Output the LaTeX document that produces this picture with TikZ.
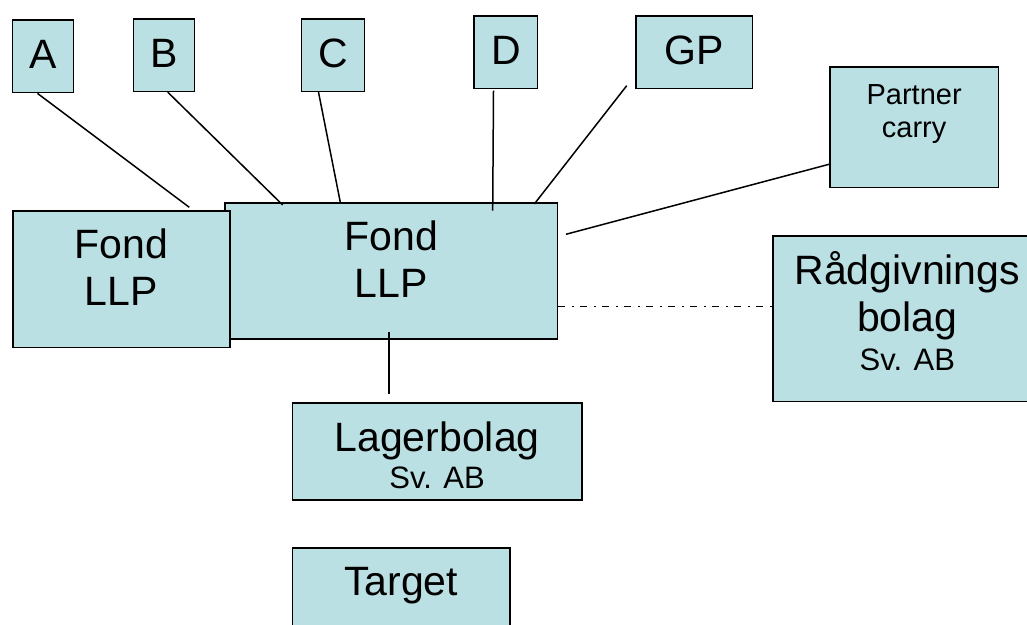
\documentclass[tikz,border=0pt]{standalone}
\usepackage{fontspec}
\setmainfont{Liberation Sans}
\usepackage{tikz}
\usetikzlibrary{positioning}
\definecolor{boxteal}{HTML}{BBE0E3}
\tikzset{
    box/.style={rectangle, draw=black, line width=1.6pt, fill=boxteal, inner sep=0pt, anchor=north west, align=center, font=\fontsize{41}{47}\selectfont},
    ownerbox/.style={box, text height=48.5pt, text depth=24pt},
    link/.style={line width=1.5pt, draw=black},
    dashdotlink/.style={link, dash pattern=on 7pt off 6.5pt on 2pt off 6.5pt}
}
\newcommand{\smalltxt}[1]{{\fontsize{31}{37}\selectfont #1}}

\begin{document}
\begin{tikzpicture}[x=1pt, y=-1pt]
    \useasboundingbox (0,0) rectangle (1027,624);
    \node[ownerbox, minimum width=61pt] (a) at (11.7,19.3) {A};
    \node[ownerbox, minimum width=61pt] (b) at (132.7,18) {B};
    \node[ownerbox, minimum width=63pt] (c) at (300.7,18) {C};
    \node[ownerbox, minimum width=63.4pt] (d) at (473.3,15) {D};
    \node[ownerbox, minimum width=116.7pt] (gp) at (635,15) {GP};
    \node[box, minimum width=168.7pt, text height=70.3pt, text depth=50.4pt, font=\fontsize{29}{33}\selectfont] (carry) at (829,66) {Partner\\carry};
    \node[box, minimum width=332.7pt, text height=94.7pt, text depth=41.3pt] (fondm) at (224,202.3) {Fond\\LLP};
    \node[box, minimum width=216.7pt, text height=95pt, text depth=41.7pt] (fondl) at (12.3,210) {Fond\\LLP};
    \node[box, minimum width=268.4pt, text height=134.3pt, text depth=31.4pt] (radg) at (772.3,235) {Rådgivnings\\bolag\\[-8pt]\smalltxt{Sv. AB}};
    \node[box, minimum width=289.3pt, text height=85.7pt, text depth=11pt] (lager) at (291.7,402.3) {Lagerbolag\\[-10pt]\smalltxt{Sv. AB}};
    \node[box, below right=46.7pt and 0pt of lager.south west, minimum width=217.3pt, text height=47.6pt, text depth=52.4pt] (target) {Target};
    \draw[link] ([xshift=-5.5pt]a.south) -- ([xshift=-41.3pt,yshift=2.7pt]fondl.north east);
    \draw[link] ([xshift=3.7pt]b.south) -- ([xshift=58.7pt,yshift=-2.7pt]fondm.north west);
    \draw[link] ([xshift=-14.5pt]c.south) -- ([xshift=116.3pt]fondm.north west);
    \draw[link] ([xshift=-12.3pt,yshift=-1.5pt]d.south) -- ([xshift=268.7pt,yshift=-8.4pt]fondm.north west);
    \draw[link] ([xshift=-8.3pt,yshift=3.4pt]gp.south west) -- ([xshift=-24pt,yshift=-1.7pt]fondm.north east);
    \draw[link] ([yshift=24pt]carry.south west) -- ([xshift=7.6pt,yshift=-32pt]fondm.north east);
    \draw[dashdotlink] ([yshift=-35.4pt]fondm.east) -- ([yshift=-35.4pt]fondm.east -| radg.west);
    \draw[link] ([xshift=-2pt,yshift=8.3pt]fondm.south) -- ([xshift=-2pt,yshift=8.3pt]fondm.south |- lager.north);
\end{tikzpicture}
\end{document}
